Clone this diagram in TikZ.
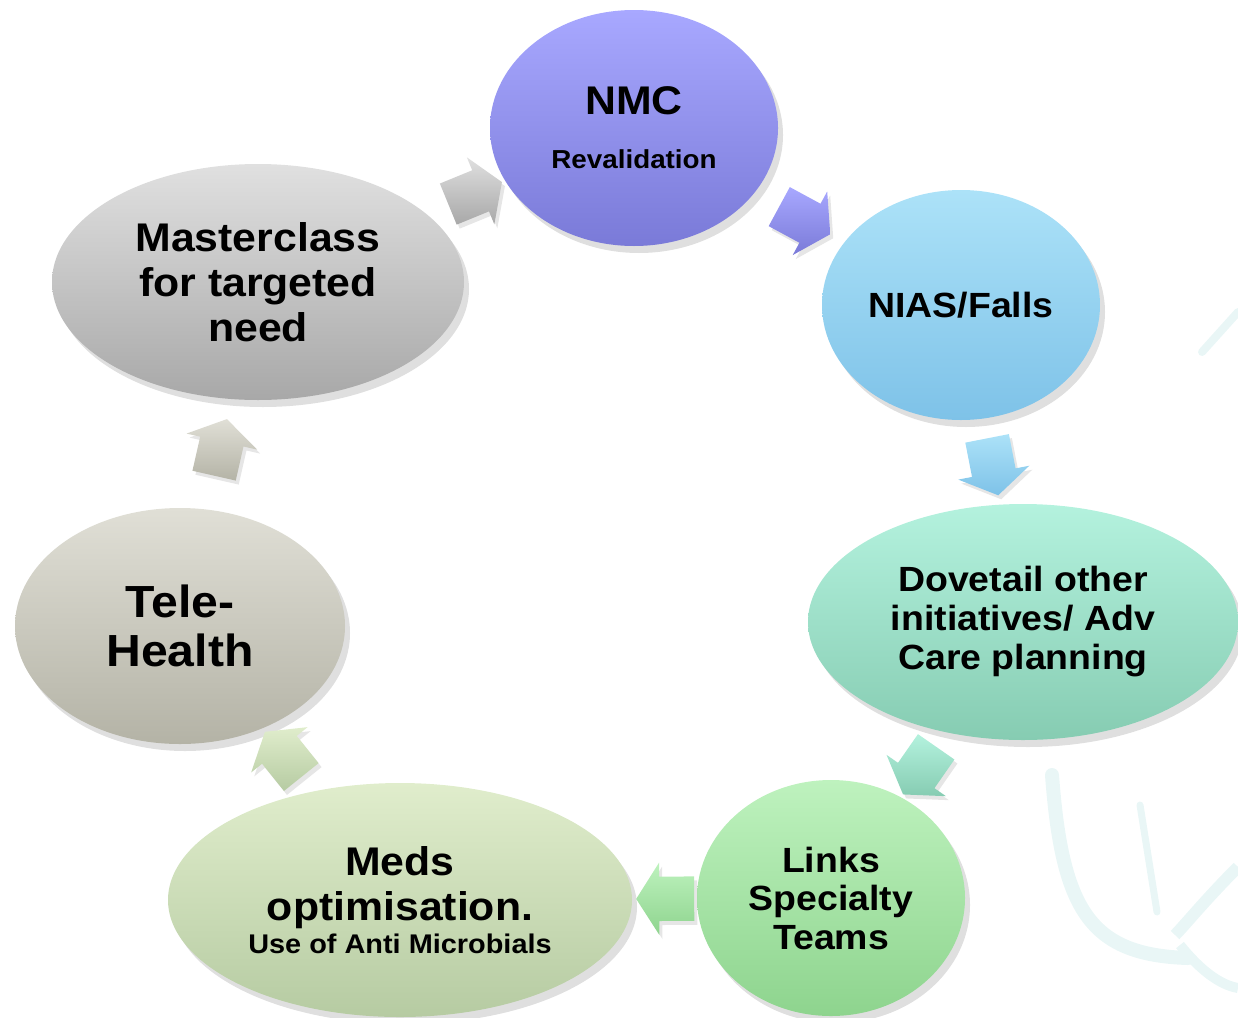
\documentclass[tikz,border=0pt]{standalone}
\usepackage{fontspec}
\setmainfont[FakeStretch=1.07]{Liberation Sans}
\usetikzlibrary{shapes.geometric}
\usetikzlibrary{shapes.arrows}
\usetikzlibrary{shadows}

\definecolor{nmcTop}{HTML}{A8A8FF}
\definecolor{nmcBot}{HTML}{7A7AD8}
\definecolor{niasTop}{HTML}{ACE2F8}
\definecolor{niasBot}{HTML}{7EC2E8}
\definecolor{doveTop}{HTML}{B4F2DE}
\definecolor{doveBot}{HTML}{86CCB2}
\definecolor{linksTop}{HTML}{BEF2BE}
\definecolor{linksBot}{HTML}{8ED48E}
\definecolor{medsTop}{HTML}{E0EDCC}
\definecolor{medsBot}{HTML}{B6CBA2}
\definecolor{teleTop}{HTML}{E0DFD6}
\definecolor{teleBot}{HTML}{B4B3A6}
\definecolor{masterTop}{HTML}{E0E0E0}
\definecolor{masterBot}{HTML}{A8A8A8}
\definecolor{logoTint}{HTML}{E9F6F6}

\begin{document}
\begin{tikzpicture}[x=1pt, y=-1pt]
	\tikzstyle{bubble}=[ellipse, inner sep=0pt, align=center, text=black, drop shadow={shadow xshift=5pt, shadow yshift=-7pt, opacity=0.25}]
	\tikzstyle{flow}=[single arrow, sloped, allow upside down, inner xsep=0pt, inner ysep=22pt, minimum height=58pt, single arrow head extend=14pt, single arrow tip angle=115, drop shadow={shadow xshift=3pt, shadow yshift=-4pt, opacity=0.2}]
	\useasboundingbox (0,0) rectangle (1238,1017);
	\draw[logoTint, line width=14pt, line cap=round] (1052,775) .. controls (1062,910) and (1090,955) .. (1188,958);
	\draw[logoTint, line width=7pt, line cap=round] (1140,805) -- (1157,912);
	\draw[logoTint, line width=12pt] (1238,867) .. controls (1205,900) and (1185,925) .. (1175,935);
	\draw[logoTint, line width=10pt] (1180,945) .. controls (1200,970) and (1220,985) .. (1238,988);
	\draw[logoTint, line width=8pt, line cap=round] (1202,352) -- (1238,312);
	\node[bubble, minimum width=288pt, minimum height=236pt, top color=nmcTop, bottom color=nmcBot, font=\bfseries\fontsize{40}{54}\selectfont] (nmc) at (634,128) {NMC\\{\fontsize{26}{30}\selectfont Revalidation}};
	\node[bubble, minimum width=278pt, minimum height=230pt, top color=niasTop, bottom color=niasBot, font=\bfseries\fontsize{35}{40}\selectfont] (nias) at (961,305) {NIAS/Falls};
	\node[bubble, minimum width=430pt, minimum height=236pt, top color=doveTop, bottom color=doveBot, font=\bfseries\fontsize{35}{39}\selectfont] (dove) at (1023,622) {Dovetail other\\initiatives/ Adv\\Care planning};
	\node[bubble, minimum width=268pt, minimum height=236pt, top color=linksTop, bottom color=linksBot, font=\bfseries\fontsize{35}{38.5}\selectfont] (links) at (831,898) {Links\\Specialty\\Teams};
	\node[bubble, minimum width=464pt, minimum height=234pt, top color=medsTop, bottom color=medsBot, font=\bfseries\fontsize{40}{45}\selectfont] (meds) at (400,900) {Meds\\optimisation.\\[-12pt]{\fontsize{27}{30}\selectfont Use of Anti Microbials}};
	\node[bubble, minimum width=330pt, minimum height=236pt, top color=teleTop, bottom color=teleBot, font=\bfseries\fontsize{45}{49}\selectfont] (tele) at (180,626) {Tele-\\Health};
	\node[bubble, minimum width=412pt, minimum height=236pt, top color=masterTop, bottom color=masterBot, font=\bfseries\fontsize{40}{45}\selectfont] (master) at (258,282) {Masterclass\\for targeted\\need};
	\path (master) -- node[flow, pos=0.54, top color=masterTop, bottom color=masterBot] {} (nmc);
	\path (nmc) -- node[flow, pos=0.49, top color=nmcTop, bottom color=nmcBot] {} (nias);
	\path (nias) -- node[flow, pos=0.48, top color=niasTop, bottom color=niasBot] {} (dove);
	\path (dove) -- node[flow, pos=0.5, top color=doveTop, bottom color=doveBot] {} (links);
	\path (links) -- node[flow, pos=0.38, top color=linksTop, bottom color=linksBot] {} (meds);
	\path (meds) -- node[flow, pos=0.5, top color=medsTop, bottom color=medsBot] {} (tele);
	\path (tele) -- node[flow, pos=0.5, top color=teleTop, bottom color=teleBot] {} (master);
\end{tikzpicture}
\end{document}
